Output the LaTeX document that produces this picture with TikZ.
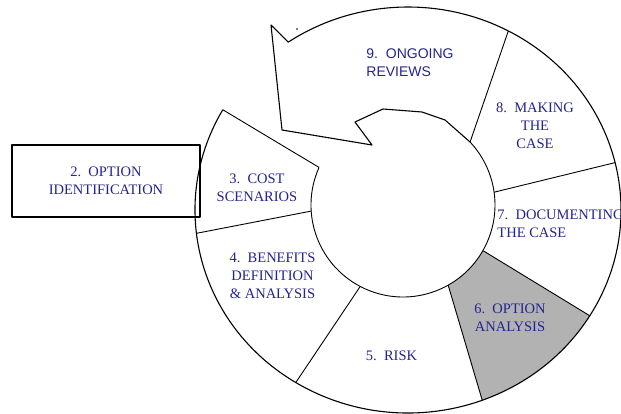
\documentclass[tikz,border=0pt]{standalone}
\usepackage{fontspec}
\setmainfont{Liberation Serif}
\newfontfamily\arialfont{Liberation Sans}
\usetikzlibrary{calc}
\definecolor{stageblue}{RGB}{35,35,145}

\begin{document}
\begin{tikzpicture}[x=1pt,y=1pt,line width=0.9pt,line join=round,
  stage/.style={text=stageblue,font=\fontsize{14.5}{18}\selectfont,align=center,inner sep=0pt},
  rim/.style={line width=1.1pt}]

\useasboundingbox (0,0) rectangle (621,413);

\coordinate (O) at (408,203); % centre of the outer rim
\coordinate (C) at (403,208); % centre of the hub

% shaded segment 6
\fill[black!30] ($(C)+(330.3:92)$) -- ($(O)+(328.6:213 and 203)$)
  arc[start angle=328.6,end angle=290.4,x radius=213,y radius=203]
  -- ($(C)+(299.4:92)$) arc[start angle=299.4,end angle=330.3,radius=92] -- cycle;

% outer rim running on into the arrow of stage 9
\draw[rim] ($(O)+(150.4:213 and 203)$)
  arc[start angle=150.4,end angle=484.2,x radius=213,y radius=203]
  -- (271,388) -- (282,283) -- (372,268) -- (355,291)
  -- (383,304) -- (422,301) -- (445,293) -- ($(C)+(43.2:92)$);

% hub
\draw ($(C)+(155.9:92)$) arc[start angle=155.9,end angle=403.2,radius=92];

% spokes: hub angle / rim angle
\foreach \a/\b in {155.9/150.4, 183.8/186.6, 242.3/238.2, 299.4/290.4,
                   330.3/328.6, 8.0/13.5, 43.2/61.9}
  \draw ($(C)+(\a:92)$) -- ($(O)+(\b:213 and 203)$);

\fill (297,384) circle[radius=0.8];

\node[stage,draw=black,line width=1.2pt,minimum width=188pt,minimum height=72pt] (ident) at (106,232) {2.~~OPTION\\IDENTIFICATION};
\node[stage] (cost)      at (257,225.5) {3.~~COST\\SCENARIOS};
\node[stage] (benefits)  at (272.5,137) {4.~~BENEFITS\\DEFINITION\\\&~ANALYSIS};
\node[stage] (risk)      at (391.5,57.5) {5.~~RISK};
\node[stage] (analysis)  at (510,95) {6.~~OPTION\\ANALYSIS};
\node[stage,anchor=west,align=left] (documenting) at (497,189.5) {7.~~DOCUMENTING\\THE CASE};
\node[stage] (making)    at (535,287.5) {8.~~MAKING\\THE\\CASE};
\node[stage,anchor=west,align=left,font=\arialfont\fontsize{14}{18}\selectfont] (reviews) at (366,350.5) {9.~~ONGOING\\REVIEWS};

\end{tikzpicture}
\end{document}
